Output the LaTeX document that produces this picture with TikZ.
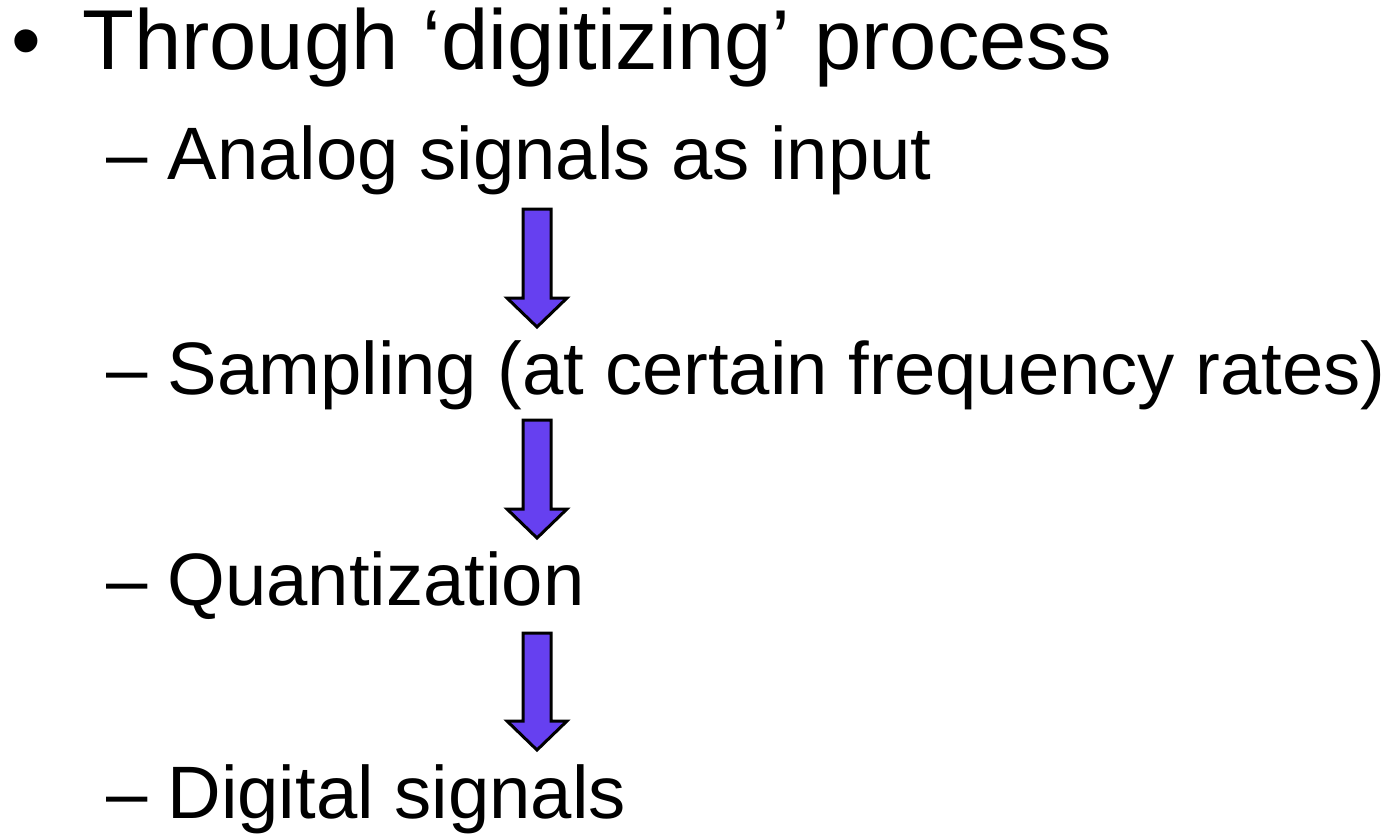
\documentclass[tikz,border=0pt]{standalone}
\usepackage{fontspec}
\setmainfont{Liberation Sans}
\usetikzlibrary{calc}
\definecolor{ArrowBlue}{HTML}{6640F0}

\begin{document}
\begin{tikzpicture}[
    x=1pt,y=-1pt,
    toplevel/.style={anchor=base west,inner sep=0pt,
                     font=\fontsize{85}{100}\selectfont},
    sublevel/.style={anchor=base west,inner sep=0pt,
                     font=\fontsize{74.3}{84}\selectfont},
    blockarrow/.style={draw=black,fill=ArrowBlue,line width=3pt,
      to path={let \p1=(\tikztostart),\p2=(\tikztotarget) in
        (\x1-14pt,\y1) -- (\x1+14pt,\y1) -- (\x1+14pt,\y2+29pt)
        -- (\x1+30pt,\y2+29pt) -- (\x2,\y2) -- (\x1-30pt,\y2+29pt)
        -- (\x1-14pt,\y2+29pt) -- cycle}}]

    \useasboundingbox (0,0) rectangle (1392,838);

    \node[toplevel] (bullet) at (11,69) {•};
    \node[toplevel] (title) at (82,69) {Through ‘digitizing’ process};

    \node[sublevel] (analog) at (106,179) {–\hspace{20pt}Analog signals as input};
    \node[sublevel] (sampl) at (106,394) {–\hspace{20pt}Sampling (at certain frequency rates)};
    \node[sublevel] (quant) at (106,605) {–\hspace{20pt}Quantization};
    \node[sublevel] (digit) at (106,818) {–\hspace{20pt}Digital signals};

    % arrow ends
    \coordinate (a1) at (537,209);
    \coordinate (b1) at (537,327);
    \coordinate (a2) at (537,420);
    \coordinate (b2) at (537,538);
    \coordinate (a3) at (537,633);
    \coordinate (b3) at (537,750);

    \path[blockarrow] (a1) to (b1);
    \path[blockarrow] (a2) to (b2);
    \path[blockarrow] (a3) to (b3);
  \end{tikzpicture}
\end{document}
